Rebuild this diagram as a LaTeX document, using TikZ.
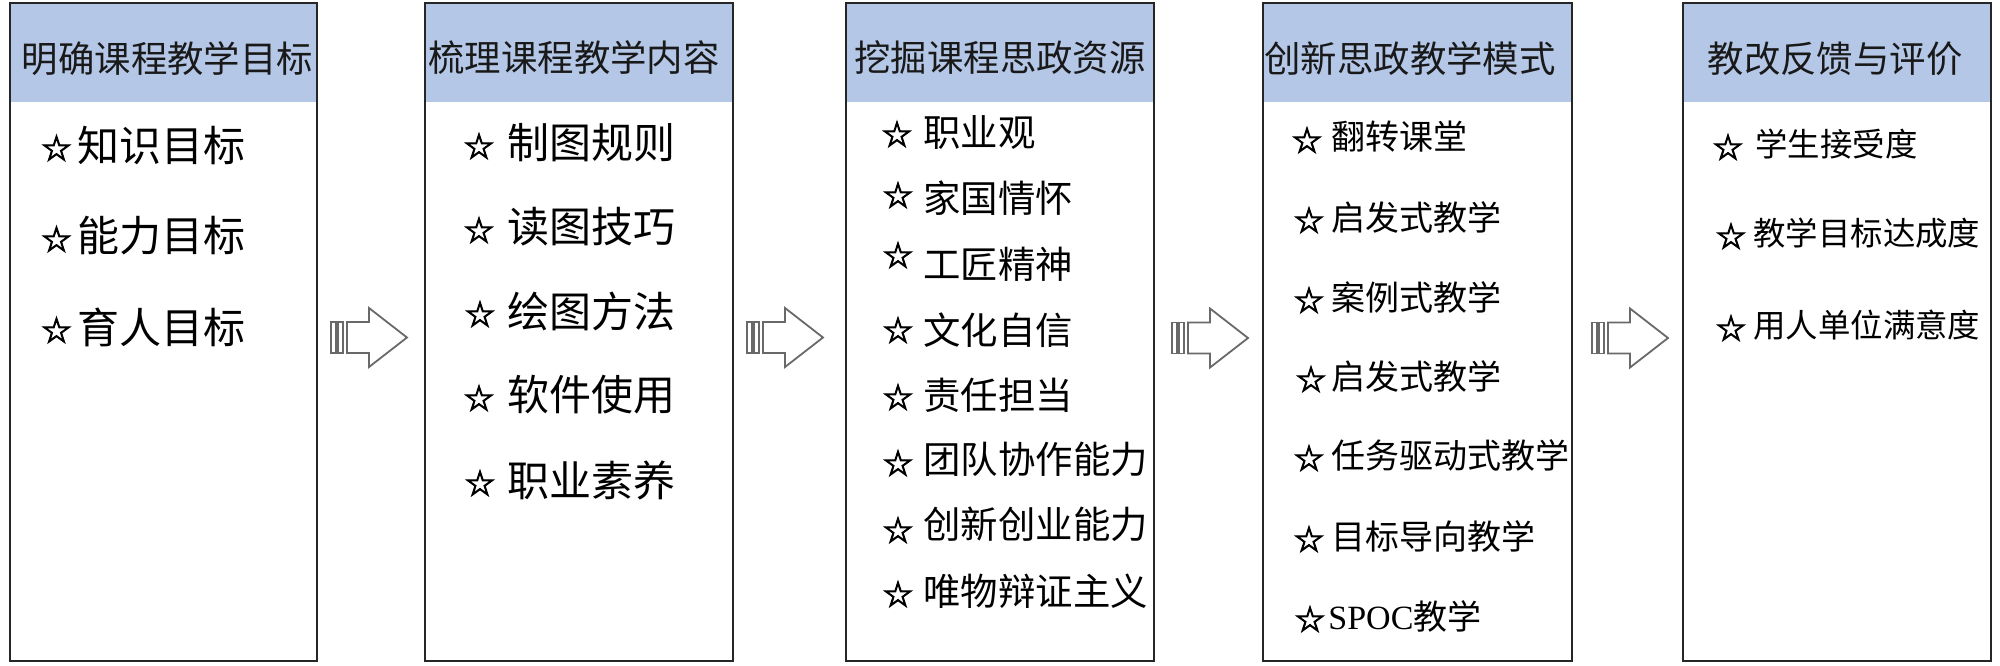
\documentclass[tikz,border=0pt]{standalone}
\usepackage{fontspec}
\newfontfamily\cjk{Noto Sans CJK SC}
\newfontfamily\sym[FakeBold=3]{DejaVu Sans}
\newfontfamily\latinserif{Liberation Serif}
\definecolor{hdr}{RGB}{180,199,231}
\definecolor{arrgray}{RGB}{105,105,105}
\begin{document}
\begin{tikzpicture}[x=0.5pt,y=-0.5pt,
  frame/.style={draw=black!85, line width=1.2pt},
  hdrfill/.style={fill=hdr},
  hdrtext/.style={inner sep=0, text=black!90, font=\cjk\fontsize{18.2pt}{20pt}\selectfont},
  star/.style={inner sep=0, font=\sym\fontsize{17.5pt}{20pt}\selectfont},
  itemA/.style={anchor=west, inner sep=0, font=\cjk\fontsize{21pt}{24pt}\selectfont},
  itemB/.style={anchor=west, inner sep=0, font=\cjk\fontsize{18.7pt}{22pt}\selectfont},
  itemC/.style={anchor=west, inner sep=0, font=\cjk\fontsize{17pt}{20pt}\selectfont},
  itemD/.style={anchor=west, inner sep=0, font=\cjk\fontsize{16.2pt}{19pt}\selectfont},
  blockarr/.pic={
    \draw[arrgray, line width=0.9pt] (1,-15.5) rectangle (6,15.5);
    \draw[arrgray, line width=0.9pt] (8,-15.5) rectangle (13,15.5);
    \draw[arrgray, line width=0.9pt, line join=miter] (17,-15.5) -- (39,-15.5) -- (39,-29.5) -- (77,0) -- (39,29.5) -- (39,15.5) -- (17,15.5) -- cycle;
  }
]
\useasboundingbox (0,0) rectangle (2000,665);
\fill[white] (0,0) rectangle (2000,665);

% boxes
\fill[hdrfill] (10,3) rectangle (317,102);
\draw[frame] (10,3) rectangle (317,661);
\fill[hdrfill] (425,3) rectangle (733,102);
\draw[frame] (425,3) rectangle (733,661);
\fill[hdrfill] (846,3) rectangle (1154,102);
\draw[frame] (846,3) rectangle (1154,661);
\fill[hdrfill] (1263,3) rectangle (1572,102);
\draw[frame] (1263,3) rectangle (1572,661);
\fill[hdrfill] (1683,3) rectangle (1991,102);
\draw[frame] (1683,3) rectangle (1991,661);

% headers
\node[hdrtext] (h1) at (167.5,59) {明确课程教学目标};
\node[hdrtext] (h2) at (574,58) {梳理课程教学内容};
\node[hdrtext] (h3) at (1000,58) {挖掘课程思政资源};
\node[hdrtext] (h4) at (1410,59) {创新思政教学模式};
\node[hdrtext] (h5) at (1835,59) {教改反馈与评价};

% box 1 items
\node[star] (s11) at (56.5,148) {☆};
\node[itemA] (t11) at (77,145) {知识目标};
\node[star] (s12) at (56.5,239) {☆};
\node[itemA] (t12) at (77,236) {能力目标};
\node[star] (s13) at (56.5,330) {☆};
\node[itemA] (t13) at (77,327) {育人目标};

% box 2 items
\node[star] (s21) at (479,146) {☆};
\node[itemA] (t21) at (507,143) {制图规则};
\node[star] (s22) at (479,230) {☆};
\node[itemA] (t22) at (507,227) {读图技巧};
\node[star] (s23) at (480,314) {☆};
\node[itemA] (t23) at (507,311) {绘图方法};
\node[star] (s24) at (479,398) {☆};
\node[itemA] (t24) at (507,395) {软件使用};
\node[star] (s25) at (480,483) {☆};
\node[itemA] (t25) at (507,480) {职业素养};

% box 3 items
\node[star] (s31) at (897,134) {☆};
\node[itemB] (t31) at (923,133) {职业观};
\node[star] (s32) at (898,195) {☆};
\node[itemB] (t32) at (923,198) {家国情怀};
\node[star] (s33) at (898,255) {☆};
\node[itemB] (t33) at (923,264) {工匠精神};
\node[star] (s34) at (898,330) {☆};
\node[itemB] (t34) at (923,330) {文化自信};
\node[star] (s35) at (898,397) {☆};
\node[itemB] (t35) at (923,395) {责任担当};
\node[star] (s36) at (898,463) {☆};
\node[itemB] (t36) at (923,459) {团队协作能力};
\node[star] (s37) at (898,530) {☆};
\node[itemB] (t37) at (923,524) {创新创业能力};
\node[star] (s38) at (898,594) {☆};
\node[itemB] (t38) at (923,591) {唯物辩证主义};

% box 4 items
\node[star] (s41) at (1307,140) {☆};
\node[itemC] (t41) at (1331,137) {翻转课堂};
\node[star] (s42) at (1309,220) {☆};
\node[itemC] (t42) at (1331,217) {启发式教学};
\node[star] (s43) at (1309,300) {☆};
\node[itemC] (t43) at (1331,297) {案例式教学};
\node[star] (s44) at (1311,379) {☆};
\node[itemC] (t44) at (1331,376) {启发式教学};
\node[star] (s45) at (1309,458) {☆};
\node[itemC] (t45) at (1331,455) {任务驱动式教学};
\node[star] (s46) at (1309,539) {☆};
\node[itemC] (t46) at (1331,536) {目标导向教学};
\node[star] (s47) at (1310,619) {☆};
\node[itemC] (t47) at (1328,616) {{\latinserif SPOC}教学};

% box 5 items
\node[star] (s51) at (1728,147) {☆};
\node[itemD] (t51) at (1755,144) {学生接受度};
\node[star] (s52) at (1731,236) {☆};
\node[itemD] (t52) at (1753,233) {教学目标达成度};
\node[star] (s53) at (1731,328) {☆};
\node[itemD] (t53) at (1753,325) {用人单位满意度};

% block arrows
\pic at (330,337.5) {blockarr};
\pic at (746,337.5) {blockarr};
\pic at (1171,338) {blockarr};
\pic at (1591,338) {blockarr};
\end{tikzpicture}
\end{document}
